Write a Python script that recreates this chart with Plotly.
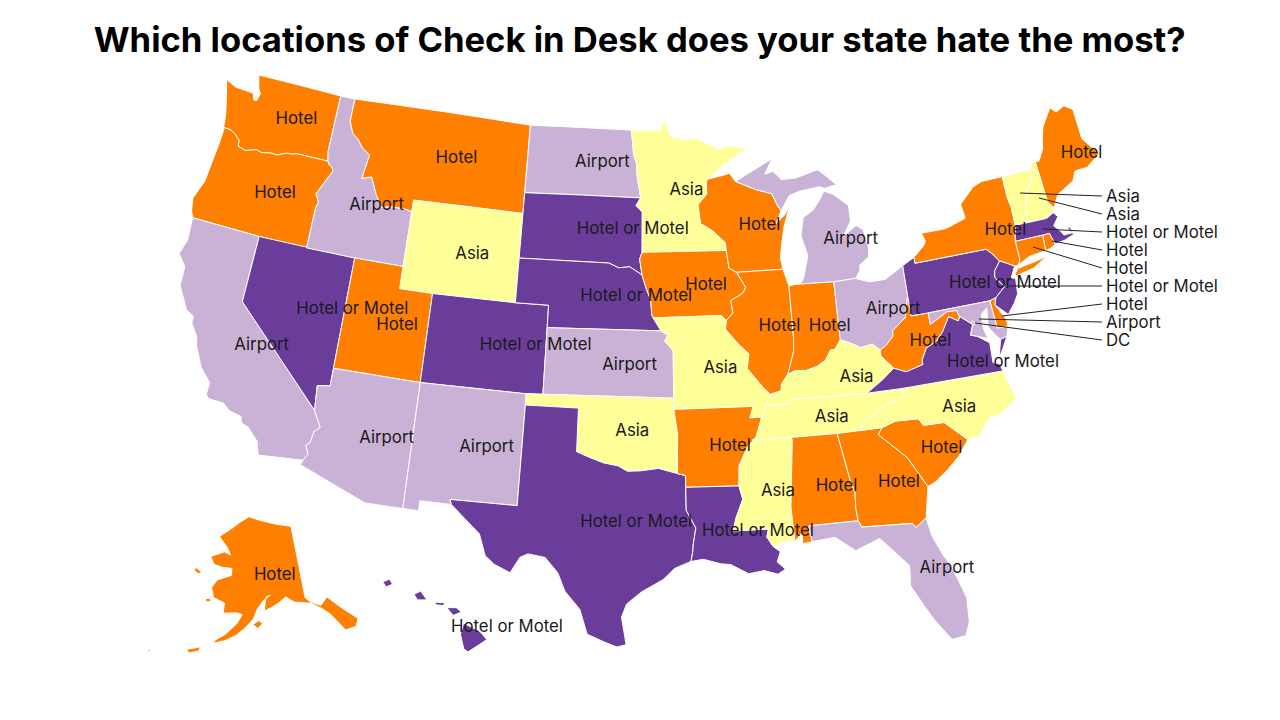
import plotly.graph_objects as go

# NOTE: Plotly's own state map cannot load offline, so these outlines are simplified
# lon/lat boundaries written by hand (approximate), projected by Plotly's albers usa.
TITLE = "Which locations of Check in Desk does your state hate the most?"
states = ["WA","OR","CA","NV","ID","MT","WY","UT","AZ","CO","NM","ND","SD","NE","KS","OK","TX","MN","IA","MO","AR","LA","WI","IL","MI","IN","OH","KY","TN","MS","AL","GA","FL","SC","NC","VA","WV","PA","NY","ME","VT","NH","MA","RI","CT","NJ","DE","MD","DC","AK","HI"]
answers = ["Hotel","Hotel","Airport","Hotel or Motel","Airport","Hotel","Asia","Hotel","Airport","Hotel or Motel","Airport","Airport","Hotel or Motel","Hotel or Motel","Airport","Asia","Hotel or Motel","Asia","Hotel","Asia","Hotel","Hotel or Motel","Hotel","Hotel","Airport","Hotel","Airport","Asia","Asia","Asia","Hotel","Hotel","Airport","Hotel","Asia","Hotel or Motel","Hotel","Hotel or Motel","Hotel","Hotel","Asia","Asia","Hotel or Motel","Hotel","Hotel","Hotel or Motel","Hotel","Airport","DC","Hotel","Hotel or Motel"]
colors = {"Airport":"#cab2d6","Asia":"#ffff99","DC":"#cab2d6","Hotel":"#ff7f00","Hotel or Motel":"#6a3d9a"}

outlines = {
"WA":[[(-124.73,48.38),(-124.0,48.17),(-123.1,48.15),(-122.75,48.12),(-122.62,47.85),(-122.42,47.85),(-122.3,48.2),(-122.5,48.4),(-122.75,49.0),(-117.03,49.0),(-117.04,46.42),(-116.92,46.0),(-118.98,46.0),(-119.3,45.93),(-119.6,45.92),(-120.2,45.73),(-120.65,45.74),(-121.2,45.65),(-121.55,45.72),(-122.25,45.55),(-122.76,45.65),(-122.8,45.9),(-123.2,46.15),(-123.55,46.26),(-124.0,46.27),(-124.08,46.7),(-124.15,46.95),(-124.4,47.6)]],
"OR":[[(-124.0,46.27),(-123.55,46.26),(-123.2,46.15),(-122.8,45.9),(-122.76,45.65),(-122.25,45.55),(-121.55,45.72),(-121.2,45.65),(-120.65,45.74),(-120.2,45.73),(-119.6,45.92),(-119.3,45.93),(-118.98,46.0),(-116.92,46.0),(-116.78,45.85),(-116.54,45.75),(-116.46,45.6),(-116.67,45.3),(-116.85,45.0),(-117.2,44.45),(-117.03,44.25),(-116.93,44.1),(-117.03,43.83),(-117.03,42.0),(-120.0,42.0),(-124.21,42.0),(-124.4,42.3),(-124.55,42.84),(-124.15,43.7),(-124.07,44.6),(-123.97,45.5),(-123.95,46.18)]],
"CA":[[(-124.21,42.0),(-120.0,42.0),(-120.0,39.0),(-114.63,35.0),(-114.14,34.3),(-114.43,34.08),(-114.53,33.55),(-114.72,33.4),(-114.52,33.03),(-114.72,32.72),(-117.12,32.53),(-117.25,32.85),(-117.33,33.1),(-118.0,33.65),(-118.4,33.75),(-118.5,34.03),(-119.2,34.15),(-119.6,34.42),(-120.47,34.45),(-120.65,34.6),(-120.63,35.15),(-121.3,35.7),(-121.9,36.6),(-122.0,36.96),(-122.5,37.5),(-122.5,37.8),(-123.0,38.0),(-123.75,38.95),(-123.8,39.8),(-124.35,40.3),(-124.1,41.0)]],
"NV":[[(-120.0,42.0),(-114.04,42.0),(-114.04,37.0),(-114.04,36.2),(-114.75,36.1),(-114.63,35.0),(-120.0,39.0)]],
"ID":[[(-117.03,49.0),(-116.05,49.0),(-116.05,47.97),(-115.7,47.45),(-115.3,47.25),(-114.9,46.9),(-114.35,46.65),(-114.55,45.56),(-113.95,45.7),(-113.45,44.95),(-113.0,44.45),(-112.3,44.55),(-111.5,44.55),(-111.05,44.48),(-111.05,42.0),(-114.04,42.0),(-117.03,42.0),(-117.03,43.83),(-116.93,44.1),(-117.03,44.25),(-117.2,44.45),(-116.85,45.0),(-116.67,45.3),(-116.46,45.6),(-116.54,45.75),(-116.78,45.85),(-116.92,46.0),(-117.04,46.42)]],
"MT":[[(-116.05,49.0),(-104.05,49.0),(-104.05,45.94),(-104.05,45.0),(-111.05,45.0),(-111.05,44.48),(-111.5,44.55),(-112.3,44.55),(-113.0,44.45),(-113.45,44.95),(-113.95,45.7),(-114.55,45.56),(-114.35,46.65),(-114.9,46.9),(-115.3,47.25),(-115.7,47.45),(-116.05,47.97)]],
"WY":[[(-111.05,45.0),(-104.05,45.0),(-104.05,43.0),(-104.05,41.0),(-109.05,41.0),(-111.05,41.0)]],
"UT":[[(-114.04,42.0),(-111.05,42.0),(-111.05,41.0),(-109.05,41.0),(-109.05,37.0),(-114.04,37.0)]],
"AZ":[[(-114.04,37.0),(-109.05,37.0),(-109.05,31.33),(-111.07,31.33),(-114.81,32.5),(-114.72,32.72),(-114.52,33.03),(-114.72,33.4),(-114.53,33.55),(-114.43,34.08),(-114.14,34.3),(-114.63,35.0),(-114.75,36.1),(-114.04,36.2)]],
"CO":[[(-109.05,41.0),(-104.05,41.0),(-102.05,41.0),(-102.05,40.0),(-102.05,37.0),(-103.0,37.0),(-109.05,37.0)]],
"NM":[[(-109.05,37.0),(-103.0,37.0),(-103.0,36.5),(-103.04,32.0),(-106.62,32.0),(-106.53,31.78),(-108.21,31.78),(-108.21,31.33),(-109.05,31.33)]],
"ND":[[(-104.05,49.0),(-97.23,49.0),(-97.13,48.5),(-97.05,47.9),(-96.85,47.5),(-96.8,46.9),(-96.56,45.94),(-104.05,45.94)]],
"SD":[[(-104.05,45.94),(-96.56,45.94),(-96.85,45.6),(-96.45,45.3),(-96.45,43.5),(-96.6,43.2),(-96.45,42.49),(-97.2,42.85),(-97.9,42.8),(-98.5,43.0),(-104.05,43.0)]],
"NE":[[(-104.05,43.0),(-98.5,43.0),(-97.9,42.8),(-97.2,42.85),(-96.45,42.49),(-96.2,41.9),(-95.93,41.4),(-95.85,40.7),(-95.77,40.58),(-95.31,40.0),(-102.05,40.0),(-102.05,41.0),(-104.05,41.0)]],
"KS":[[(-102.05,40.0),(-95.31,40.0),(-94.9,39.8),(-95.1,39.55),(-94.61,39.11),(-94.62,37.0),(-103.0,37.0),(-102.05,37.0)]],
"OK":[[(-103.0,37.0),(-94.62,37.0),(-94.62,36.5),(-94.43,35.4),(-94.48,33.64),(-95.5,33.88),(-96.5,33.77),(-97.2,33.75),(-97.7,33.98),(-98.5,34.1),(-99.2,34.3),(-100.0,34.56),(-100.0,36.5),(-103.0,36.5)]],
"TX":[[(-103.0,36.5),(-100.0,36.5),(-100.0,34.56),(-99.2,34.3),(-98.5,34.1),(-97.7,33.98),(-97.2,33.75),(-96.5,33.77),(-95.5,33.88),(-94.48,33.64),(-94.04,33.55),(-94.04,33.02),(-94.04,31.99),(-93.55,31.2),(-93.7,30.5),(-93.75,30.1),(-93.85,29.7),(-94.7,29.4),(-95.3,28.9),(-96.4,28.35),(-97.15,27.8),(-97.4,27.2),(-97.15,25.96),(-97.6,25.85),(-98.2,26.05),(-99.1,26.4),(-99.5,27.5),(-100.3,28.3),(-100.7,29.1),(-101.4,29.77),(-102.3,29.88),(-102.7,29.7),(-103.15,28.98),(-104.0,29.3),(-104.5,29.65),(-104.9,30.6),(-106.53,31.78),(-106.62,32.0),(-103.04,32.0)]],
"MN":[[(-97.23,49.0),(-95.15,49.0),(-95.15,49.38),(-94.82,49.32),(-94.6,48.72),(-93.5,48.55),(-92.95,48.62),(-92.0,48.3),(-91.4,48.07),(-90.8,48.2),(-89.5,48.0),(-90.5,47.6),(-91.3,47.25),(-92.1,46.75),(-92.29,46.66),(-92.29,46.07),(-92.88,45.6),(-92.75,44.75),(-92.0,44.4),(-91.25,43.85),(-91.22,43.5),(-96.45,43.5),(-96.45,45.3),(-96.85,45.6),(-96.56,45.94),(-96.8,46.9),(-96.85,47.5),(-97.05,47.9),(-97.13,48.5)]],
"IA":[[(-96.45,43.5),(-91.22,43.5),(-91.1,42.7),(-90.65,42.5),(-90.15,41.8),(-90.35,41.55),(-91.1,41.25),(-91.0,40.7),(-91.42,40.38),(-91.73,40.61),(-95.77,40.58),(-95.85,40.7),(-95.93,41.4),(-96.2,41.9),(-96.45,42.49),(-96.6,43.2)]],
"MO":[[(-95.77,40.58),(-91.73,40.61),(-91.42,40.38),(-91.5,40.0),(-90.72,39.25),(-90.2,38.85),(-90.35,38.2),(-89.5,37.3),(-89.13,36.98),(-89.42,36.5),(-89.7,36.0),(-90.37,36.0),(-90.15,36.5),(-94.62,36.5),(-94.62,37.0),(-94.61,39.11),(-95.1,39.55),(-94.9,39.8),(-95.31,40.0)]],
"AR":[[(-94.62,36.5),(-90.15,36.5),(-90.37,36.0),(-89.7,36.0),(-90.1,35.1),(-90.6,34.7),(-91.1,33.9),(-91.17,33.0),(-94.04,33.02),(-94.04,33.55),(-94.48,33.64),(-94.43,35.4)]],
"LA":[[(-94.04,33.02),(-91.17,33.0),(-91.0,32.4),(-91.4,31.6),(-91.6,31.0),(-89.73,31.0),(-89.85,30.65),(-89.55,30.2),(-89.2,29.95),(-89.4,29.5),(-89.0,29.15),(-89.4,28.95),(-90.1,29.15),(-90.9,29.05),(-91.8,29.5),(-92.3,29.55),(-93.2,29.78),(-93.85,29.7),(-93.75,30.1),(-93.7,30.5),(-93.55,31.2),(-94.04,31.99)]],
"WI":[[(-92.29,46.66),(-92.1,46.75),(-91.2,46.87),(-90.75,46.95),(-90.4,46.57),(-89.1,46.14),(-88.1,45.9),(-87.8,45.35),(-87.6,45.1),(-88.0,44.55),(-87.4,44.9),(-87.05,45.25),(-87.5,44.4),(-87.75,43.6),(-87.9,43.0),(-87.8,42.49),(-90.65,42.5),(-91.1,42.7),(-91.22,43.5),(-91.25,43.85),(-92.0,44.4),(-92.75,44.75),(-92.88,45.6),(-92.29,46.07)]],
"IL":[[(-90.65,42.5),(-87.8,42.49),(-87.53,41.72),(-87.53,39.35),(-87.6,38.8),(-87.95,38.0),(-88.05,37.8),(-88.45,37.4),(-88.5,37.1),(-89.13,36.98),(-89.5,37.3),(-90.35,38.2),(-90.2,38.85),(-90.72,39.25),(-91.5,40.0),(-91.42,40.38),(-91.0,40.7),(-91.1,41.25),(-90.35,41.55),(-90.15,41.8)]],
"IN":[[(-87.53,41.72),(-87.2,41.76),(-86.82,41.76),(-84.8,41.7),(-84.82,39.1),(-85.2,38.7),(-85.45,38.7),(-85.8,38.28),(-86.3,38.05),(-87.0,37.9),(-87.6,37.95),(-88.05,37.8),(-87.95,38.0),(-87.6,38.8),(-87.53,39.35)]],
"MI":[[(-86.82,41.76),(-84.8,41.7),(-83.45,41.73),(-83.15,42.05),(-83.1,42.3),(-82.5,42.6),(-82.42,43.0),(-82.6,43.85),(-83.0,44.07),(-83.9,43.65),(-83.3,44.3),(-83.3,45.0),(-84.2,45.6),(-84.75,45.78),(-85.1,45.4),(-85.55,45.0),(-86.25,44.7),(-86.5,43.9),(-86.2,43.0),(-86.6,42.0)],
      [(-90.4,46.57),(-89.1,46.14),(-88.1,45.9),(-87.8,45.35),(-87.6,45.1),(-87.0,45.75),(-86.3,45.9),(-85.0,46.0),(-84.7,45.9),(-83.9,46.0),(-84.5,46.45),(-85.0,46.77),(-86.5,46.5),(-87.4,46.5),(-87.9,46.9),(-88.45,46.8),(-87.9,47.47),(-89.5,46.9)]],
"OH":[[(-84.8,41.7),(-83.45,41.73),(-82.7,41.5),(-81.7,41.5),(-80.52,41.98),(-80.52,40.64),(-80.85,39.7),(-81.7,39.2),(-81.75,38.95),(-82.2,38.6),(-82.6,38.42),(-83.0,38.73),(-83.7,38.65),(-84.25,38.9),(-84.82,39.1)]],
"KY":[[(-89.13,36.98),(-88.5,37.1),(-88.45,37.4),(-88.05,37.8),(-87.6,37.95),(-87.0,37.9),(-86.3,38.05),(-85.8,38.28),(-85.45,38.7),(-85.2,38.7),(-84.82,39.1),(-84.25,38.9),(-83.7,38.65),(-83.0,38.73),(-82.6,38.42),(-82.6,38.15),(-81.97,37.54),(-82.7,37.1),(-83.68,36.6),(-88.07,36.68),(-88.07,36.5),(-89.42,36.5)]],
"TN":[[(-89.7,36.0),(-89.42,36.5),(-88.07,36.5),(-88.07,36.68),(-83.68,36.6),(-81.68,36.59),(-81.7,36.3),(-82.0,36.1),(-82.6,36.03),(-83.1,35.77),(-84.0,35.4),(-84.32,34.99),(-85.6,34.98),(-88.2,35.0),(-90.3,35.0),(-90.1,35.1)]],
"MS":[[(-90.3,35.0),(-88.2,35.0),(-88.1,34.9),(-88.47,31.9),(-88.4,30.37),(-88.9,30.4),(-89.55,30.2),(-89.85,30.65),(-89.73,31.0),(-91.6,31.0),(-91.4,31.6),(-91.0,32.4),(-91.17,33.0),(-91.1,33.9),(-90.6,34.7),(-90.1,35.1)]],
"AL":[[(-88.2,35.0),(-85.6,34.98),(-85.18,32.87),(-85.0,32.3),(-85.05,31.55),(-85.0,31.0),(-87.6,31.0),(-87.6,30.85),(-87.5,30.28),(-88.0,30.23),(-88.0,30.7),(-88.4,30.37),(-88.47,31.9),(-88.1,34.9)]],
"GA":[[(-85.6,34.98),(-84.32,34.99),(-83.1,35.0),(-83.35,34.7),(-82.75,34.2),(-81.95,33.5),(-81.4,32.6),(-81.1,32.1),(-81.45,30.72),(-82.05,30.36),(-82.2,30.57),(-84.86,30.7),(-85.0,31.0),(-85.05,31.55),(-85.0,32.3),(-85.18,32.87)]],
"FL":[[(-87.6,31.0),(-85.0,31.0),(-84.86,30.7),(-82.2,30.57),(-82.05,30.36),(-81.45,30.72),(-81.3,29.9),(-80.9,29.0),(-80.55,28.4),(-80.05,26.9),(-80.12,25.8),(-80.4,25.2),(-81.1,25.13),(-81.8,26.1),(-82.2,26.8),(-82.75,27.8),(-82.65,28.7),(-83.4,29.5),(-84.0,30.1),(-85.3,29.68),(-86.3,30.38),(-87.5,30.28),(-87.6,30.85)]],
"SC":[[(-83.1,35.0),(-82.3,35.2),(-81.05,35.15),(-80.8,34.82),(-79.67,34.8),(-78.55,33.86),(-79.2,33.2),(-79.9,32.7),(-80.65,32.25),(-81.1,32.1),(-81.4,32.6),(-81.95,33.5),(-82.75,34.2),(-83.35,34.7)]],
"NC":[[(-84.32,34.99),(-83.1,35.0),(-82.3,35.2),(-81.05,35.15),(-80.8,34.82),(-79.67,34.8),(-78.55,33.86),(-77.95,33.9),(-77.2,34.6),(-76.5,34.7),(-75.5,35.25),(-75.9,36.55),(-81.68,36.59),(-81.7,36.3),(-82.0,36.1),(-82.6,36.03),(-83.1,35.77),(-84.0,35.4)]],
"VA":[[(-75.9,36.55),(-81.68,36.59),(-83.68,36.6),(-82.7,37.1),(-81.97,37.54),(-81.3,37.3),(-80.3,37.5),(-80.3,37.7),(-79.95,38.2),(-79.3,38.42),(-78.87,38.77),(-78.35,39.4),(-77.83,39.13),(-77.72,39.32),(-77.05,38.85),(-77.3,38.4),(-76.95,38.3),(-76.3,37.9),(-76.35,37.0),(-76.0,36.9)],
      [(-75.95,37.15),(-75.65,37.95),(-75.25,38.03),(-75.65,37.5)]],
"WV":[[(-80.52,40.64),(-80.52,39.72),(-79.48,39.72),(-79.48,39.2),(-78.4,39.62),(-77.83,39.6),(-77.72,39.32),(-77.83,39.13),(-78.35,39.4),(-78.87,38.77),(-79.3,38.42),(-79.95,38.2),(-80.3,37.7),(-80.3,37.5),(-81.3,37.3),(-81.97,37.54),(-82.6,38.15),(-82.6,38.42),(-82.2,38.6),(-81.75,38.95),(-81.7,39.2),(-80.85,39.7)]],
"PA":[[(-80.52,41.98),(-79.76,42.27),(-79.76,42.0),(-75.35,42.0),(-75.05,41.75),(-74.7,41.36),(-75.13,40.97),(-75.2,40.68),(-74.75,40.2),(-75.4,39.8),(-75.79,39.72),(-79.48,39.72),(-80.52,39.72),(-80.52,40.64)]],
"NY":[[(-79.76,42.27),(-79.05,42.7),(-78.9,42.9),(-79.05,43.27),(-77.5,43.27),(-76.2,43.55),(-76.3,44.2),(-75.3,44.85),(-74.7,45.0),(-73.35,45.0),(-73.35,44.0),(-73.25,43.6),(-73.28,42.75),(-73.5,42.05),(-73.49,41.21),(-73.65,40.99),(-73.9,40.99),(-74.7,41.36),(-75.05,41.75),(-75.35,42.0),(-79.76,42.0)],
      [(-74.0,40.6),(-73.75,40.85),(-72.6,40.97),(-71.87,41.07),(-72.8,40.7),(-73.9,40.55)]],
"NJ":[[(-74.7,41.36),(-73.9,40.99),(-74.25,40.5),(-74.0,40.45),(-74.1,39.75),(-74.4,39.4),(-74.9,38.95),(-75.55,39.5),(-75.4,39.8),(-74.75,40.2),(-75.2,40.68),(-75.13,40.97)]],
"DE":[[(-75.79,39.72),(-75.4,39.8),(-75.55,39.5),(-75.1,38.8),(-75.05,38.45),(-75.7,38.46)]],
"MD":[[(-79.48,39.72),(-75.79,39.72),(-75.7,38.46),(-75.05,38.45),(-75.25,38.03),(-75.65,37.95),(-75.9,38.2),(-76.2,38.6),(-76.05,39.45),(-76.45,39.2),(-76.5,38.6),(-76.35,38.1),(-76.95,38.3),(-77.3,38.4),(-77.05,38.85),(-77.72,39.32),(-77.83,39.6),(-78.4,39.62),(-79.48,39.2)]],
"DC":[[(-77.12,38.93),(-77.04,39.0),(-76.91,38.89),(-77.04,38.79)]],
"CT":[[(-73.49,41.21),(-73.5,42.05),(-71.8,42.02),(-71.86,41.32),(-72.9,41.25),(-73.65,40.99)]],
"RI":[[(-71.8,42.02),(-71.38,42.02),(-71.2,41.5),(-71.5,41.37),(-71.86,41.32)]],
"MA":[[(-73.5,42.05),(-73.28,42.75),(-72.45,42.73),(-71.3,42.7),(-70.82,42.87),(-70.6,42.65),(-71.0,42.3),(-70.65,41.95),(-70.55,41.78),(-70.0,41.78),(-70.05,42.05),(-70.25,42.07),(-69.95,41.7),(-70.6,41.55),(-71.2,41.5),(-71.38,42.02),(-71.8,42.02)]],
"VT":[[(-73.35,45.0),(-71.5,45.01),(-71.6,44.5),(-72.05,44.1),(-72.4,43.35),(-72.45,42.73),(-73.28,42.75),(-73.25,43.6),(-73.35,44.0)]],
"NH":[[(-71.5,45.01),(-71.3,45.3),(-71.08,45.3),(-70.98,43.4),(-70.7,43.07),(-70.82,42.87),(-71.3,42.7),(-72.45,42.73),(-72.4,43.35),(-72.05,44.1),(-71.6,44.5)]],
"ME":[[(-71.08,45.3),(-70.85,45.25),(-70.4,45.75),(-70.25,46.2),(-70.0,46.7),(-69.22,47.45),(-68.9,47.18),(-68.3,47.35),(-67.8,47.07),(-67.8,45.7),(-67.45,45.3),(-67.0,44.85),(-68.0,44.4),(-68.8,44.4),(-69.1,44.0),(-69.8,43.75),(-70.25,43.6),(-70.7,43.07),(-70.98,43.4)]],
"AK":[[(-141.0,69.65),(-141.0,60.3),(-139.8,59.6),(-137.5,58.9),(-135.5,59.75),(-133.0,58.0),(-130.0,55.9),(-131.0,55.0),(-133.5,55.0),(-135.8,57.5),(-137.5,58.5),(-139.8,59.45),(-144.0,60.0),(-146.0,60.8),(-148.0,60.1),(-149.5,59.7),(-151.8,59.2),(-151.2,61.0),(-150.0,61.2),(-152.0,60.5),(-153.5,59.5),(-154.5,58.2),(-156.5,57.0),(-158.5,56.0),(-161.0,55.2),(-163.5,54.7),(-163.0,55.2),(-161.0,56.0),(-158.5,57.5),(-157.3,58.7),(-158.5,58.9),(-162.0,58.7),(-162.0,60.0),(-165.0,60.5),(-166.0,61.7),(-164.8,62.8),(-161.0,63.6),(-161.0,64.5),(-164.0,64.5),(-166.5,64.7),(-168.0,65.6),(-164.0,66.5),(-162.0,66.2),(-163.0,67.0),(-166.5,68.35),(-163.0,69.5),(-160.0,70.5),(-156.6,71.35),(-152.0,70.85),(-146.0,70.2)],
      [(-154.6,57.5),(-153.2,58.0),(-152.2,57.6),(-153.5,57.0)],
      [(-171.8,63.8),(-169.5,63.4),(-170.3,63.1),(-171.6,63.3)],
      [(-167.0,60.2),(-165.6,60.3),(-165.6,59.9),(-166.8,59.8)],
      [(-168.9,53.3),(-166.0,54.0),(-166.3,53.4),(-168.2,52.95)],
      [(-176.9,51.9),(-176.0,52.0),(-176.4,51.7)]],
"HI":[[(-155.9,20.25),(-155.1,19.85),(-154.8,19.5),(-155.7,18.95),(-155.9,19.1),(-156.05,19.75)],
      [(-156.7,20.95),(-156.25,20.95),(-156.0,20.75),(-156.4,20.6)],
      [(-157.25,21.2),(-156.75,21.17),(-156.9,21.05),(-157.25,21.08)],
      [(-158.27,21.55),(-157.95,21.7),(-157.65,21.3),(-158.1,21.3)],
      [(-159.78,22.1),(-159.45,22.23),(-159.3,22.0),(-159.6,21.88)]],
}

label_states = ["WA","OR","CA","NV","ID","MT","WY","UT","AZ","CO","NM","ND","SD","NE","KS","OK","TX","MN","IA","MO","AR","LA","WI","IL","MI","IN","OH","KY","TN","MS","AL","GA","FL","SC","NC","VA","WV","PA","NY","ME","AK","HI"]
label_lon = [-119.55,-119.7,-118.3,-113.6,-113.3,-108.7,-106.95,-110.85,-110.45,-102.65,-104.95,-99.1,-97.05,-96.8,-97.15,-96.95,-96.7,-93.6,-92.55,-91.9,-91.55,-90.3,-89.05,-88.3,-83.45,-85.35,-81.5,-84.15,-85.8,-89.1,-85.95,-82.6,-80.8,-80.05,-78.7,-75.8,-79.65,-74.7,-73.95,-68.1,-148.4,-156.5]
label_lat = [47.5,44.0,37.3,39.7,44.45,47.1,42.95,39.35,34.3,39.15,34.45,47.5,44.5,41.5,38.45,35.5,31.45,46.25,41.95,38.25,34.75,30.9,44.5,39.95,43.45,39.75,40.1,37.35,35.7,32.65,32.6,32.45,28.3,33.65,35.3,36.9,38.45,40.3,42.6,45.05,63.65,20.05]
label_pos = ["middle right" if s == "HI" else "middle center" for s in label_states]
callout_names = ["Asia","Asia","Hotel or Motel","Hotel","Hotel","Hotel or Motel","Hotel","Airport","DC"]
callout_start_px = [(1020,193),(1039,198),(1043,229),(1052,241),(1033,247),(1009,286),(1002,316),(979,319),(975,323)]
callout_y_px = [196,214,232,250,268,286,304,322,340]

def clockwise(ring):
    pts = ring + [ring[0]]
    area = sum(a[0]*b[1]-b[0]*a[1] for a,b in zip(pts,pts[1:]))
    return pts if area < 0 else pts[::-1]

fig = go.Figure()
for st, ans in zip(states, answers):
    lon, lat = [], []
    for ring in outlines[st]:
        pts = clockwise(ring)
        lon += [p[0] for p in pts] + [None]
        lat += [p[1] for p in pts] + [None]
    fig.add_trace(go.Scattergeo(lon=lon[:-1], lat=lat[:-1], mode="lines", fill="toself",
        fillcolor=colors[ans], line=dict(color="white", width=1), name=st, hoverinfo="text", text=ans, showlegend=False))
label_text = [answers[states.index(s)] for s in label_states]
fig.add_trace(go.Scattergeo(lon=label_lon, lat=label_lat, mode="text", text=label_text, textposition=label_pos,
    textfont=dict(family="Inter", size=16.8, color="#1a1a1a"), showlegend=False, hoverinfo="skip"))

W, H = 1280, 720
PAGE_MARGIN = 8  # the page body's default margin shifts the whole figure by this many pixels
def px(x): return (x-PAGE_MARGIN)/W
def py(y): return 1-(y-PAGE_MARGIN)/H
shapes = []; ann = []
for name, (x0, y0), y1 in zip(callout_names, callout_start_px, callout_y_px):
    shapes.append(dict(type="line", xref="paper", yref="paper", x0=px(x0), y0=py(y0), x1=px(1102), y1=py(y1), line=dict(color="#222", width=1)))
    ann.append(dict(xref="paper", yref="paper", x=px(1104), y=py(y1), xanchor="left", yanchor="middle", text=name, showarrow=False, font=dict(family="Inter", size=16.8, color="#1a1a1a")))

fig.update_layout(width=W, height=H, margin=dict(l=0,r=0,t=0,b=0), paper_bgcolor="white", shapes=shapes, annotations=ann,
    title=dict(text="<b>%s</b>"%TITLE, x=0.4935, xanchor="center", y=0.956, yanchor="middle", font=dict(family="Inter", size=34.6, color="black")),
    geo=dict(scope="usa", projection=dict(type="albers usa", scale=0.92), domain=dict(x=[0,0.986], y=[0.051,0.971]),
        showland=False, showlakes=False, showcoastlines=False, showsubunits=False, showcountries=False, showocean=False, showrivers=False, showframe=False, bgcolor="rgba(0,0,0,0)"))
fig.write_html("out.html")
